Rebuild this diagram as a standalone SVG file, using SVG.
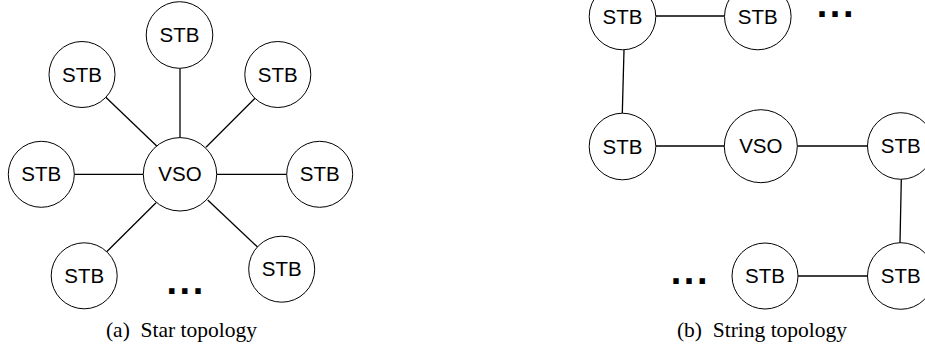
<svg xmlns="http://www.w3.org/2000/svg" width="925" height="356" viewBox="0 0 925 356">
<style>
.n circle{fill:#fff;stroke:#000;stroke-width:1}
.n text{font-family:"Liberation Sans",Arial,sans-serif;font-size:20.5px;text-anchor:middle;fill:#000}
.e line{stroke:#000;stroke-width:1.3}
.dots{font-family:"Liberation Sans",Arial,sans-serif;font-size:38px;font-weight:bold;letter-spacing:2.6px;fill:#000}
.cap{font-family:"Liberation Serif","Times New Roman",serif;font-size:21.5px;text-anchor:middle;fill:#000}
</style>
<rect width="925" height="356" fill="#fff"/>
<g id="connectors" class="e">
<line x1="180" y1="68.3" x2="180" y2="137.6"/>
<line x1="105" y1="96.5" x2="157.5" y2="146.7"/>
<line x1="255" y1="98.3" x2="206" y2="147.3"/>
<line x1="74.3" y1="174.3" x2="143.3" y2="174.3"/>
<line x1="216.7" y1="174.3" x2="286.7" y2="174.3"/>
<line x1="156" y1="202.7" x2="106.7" y2="251.7"/>
<line x1="207.7" y1="200" x2="260" y2="249.3"/>
<line x1="656" y1="16" x2="724.3" y2="16"/>
<line x1="624" y1="50" x2="622.3" y2="113.3"/>
<line x1="656" y1="146" x2="724.3" y2="146"/>
<line x1="797.3" y1="146" x2="867.3" y2="146"/>
<line x1="901.3" y1="179.3" x2="900" y2="243.3"/>
<line x1="798" y1="276" x2="867.3" y2="276"/>
</g>
<g id="star-vso" class="n"><circle cx="180" cy="174.3" r="36.7"/><text x="180" y="181.3">VSO</text></g>
<g id="star-stb-top" class="n"><circle cx="179.5" cy="35" r="33.3"/><text x="179.5" y="42">STB</text></g>
<g id="star-stb-ul" class="n"><circle cx="82" cy="74.5" r="33"/><text x="82" y="81.5">STB</text></g>
<g id="star-stb-ur" class="n"><circle cx="277.8" cy="74.5" r="33"/><text x="277.8" y="81.5">STB</text></g>
<g id="star-stb-l" class="n"><circle cx="41.3" cy="174.3" r="33"/><text x="41.3" y="181.3">STB</text></g>
<g id="star-stb-r" class="n"><circle cx="319.7" cy="174.3" r="33"/><text x="319.7" y="181.3">STB</text></g>
<g id="star-stb-ll" class="n"><circle cx="84.2" cy="275.8" r="33"/><text x="84.2" y="282.8">STB</text></g>
<g id="star-stb-lr" class="n"><circle cx="281.7" cy="269.2" r="33"/><text x="281.7" y="276.2">STB</text></g>
<text class="dots" x="166.4" y="294.3">...</text>
<g id="str-stb-tl" class="n"><circle cx="622.5" cy="16.5" r="33.3"/><text x="622.5" y="23.5">STB</text></g>
<g id="str-stb-tm" class="n"><circle cx="757.8" cy="16.5" r="33.3"/><text x="757.8" y="23.5">STB</text></g>
<text class="dots" x="816.7" y="16.7">...</text>
<g id="str-stb-ml" class="n"><circle cx="622.5" cy="146.5" r="33.3"/><text x="622.5" y="153.5">STB</text></g>
<g id="str-vso" class="n"><circle cx="760.8" cy="146.2" r="36.5"/><text x="760.8" y="153.2">VSO</text></g>
<g id="str-stb-mr" class="n"><circle cx="900.8" cy="146" r="33.3"/><text x="900.8" y="153">STB</text></g>
<g id="str-stb-br" class="n"><circle cx="900.8" cy="276" r="33.3"/><text x="900.8" y="283">STB</text></g>
<g id="str-stb-bm" class="n"><circle cx="765" cy="276" r="33"/><text x="765" y="283">STB</text></g>
<text class="dots" x="670.7" y="284">...</text>
<text class="cap" x="181.5" y="336.5" xml:space="preserve">(a)  Star topology</text>
<text class="cap" x="762" y="336.5" xml:space="preserve">(b)  String topology</text>
</svg>
